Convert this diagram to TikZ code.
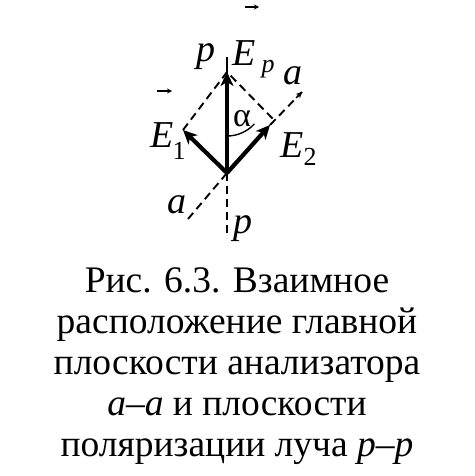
\documentclass[tikz,border=0pt]{standalone}
\usepackage{fontspec}
\setmainfont{Liberation Serif}
\usetikzlibrary{arrows.meta}
\begin{document}
\begin{tikzpicture}[x=1pt,y=-1pt,
  vec/.style={line width=4.2pt,-{Stealth[length=14pt,width=13pt,inset=4pt]}},
  dsh/.style={line width=1.9pt,dash pattern=on 8pt off 5pt},
  lbl/.style={font=\fontsize{38}{38}\selectfont\itshape,inner sep=0pt,anchor=base},
  sub/.style={font=\fontsize{26}{26}\selectfont,inner sep=0pt,anchor=base},
  tiny/.style={line width=1.3pt,-{Stealth[length=5pt,width=5pt]}},
  captext/.style={font=\fontsize{37.5}{41}\selectfont,align=center,inner sep=0pt}]
\useasboundingbox (0,0) rectangle (474,476);
\coordinate (O) at (227,173);
\coordinate (Ep) at (227,72);
\coordinate (Ptop) at (227,57);
\coordinate (Pbot) at (227,238);
\coordinate (E1) at (183,130);
\coordinate (E2) at (270,125);
\coordinate (Abot) at (188,219);
\coordinate (Atop) at (302,92);
% dashed lines
\draw[dsh] (O) -- (Pbot);
\draw[dsh] (Abot) -- (O);
\draw[dsh] (E2) -- (Atop);
\draw[line width=1.2pt,-{Stealth[length=6pt,width=6pt]}] (296,98) -- (Atop);
\draw[dsh] (E1) -- (Ep) -- (274,120);
% vertical line
\draw[line width=2pt] (O) -- (Ptop);
% vectors
\draw[vec] (O) -- (Ep);
\draw[vec] (O) -- (E1);
\draw[vec] (O) -- (E2);
% angle
\draw[line width=1.4pt] (227,136) arc[start angle=90,end angle=42,radius=37];
\node[font=\fontsize{34}{34}\selectfont,inner sep=0pt,anchor=base] (alpha) at (242,127) {α};
% labels
\node[lbl] (lp) at (206,62) {p};
\node[lbl] (lE) at (244,66) {E};
\node[lbl,font=\fontsize{26}{26}\selectfont\itshape] (lEs) at (268,73) {p};
\draw[tiny] (245,7) -- (259,7);
\node[lbl] (la) at (293,85) {a};
\node[lbl] (lE1) at (162,147) {E};
\node[sub] (lE1s) at (179,159) {1};
\draw[tiny] (157,91) -- (172,91);
\node[lbl] (lE2) at (292,157) {E};
\node[sub] (lE2s) at (310,165) {2};
\node[lbl] (la2) at (177,213) {a};
\node[lbl] (lp2) at (243,233) {p};
% caption
\node[captext] (caption) at (237,366) {Рис. 6.3. Взаимное\\расположение главной\\плоскости анализатора\\\textit{a}–\textit{a} и плоскости\\поляризации луча \textit{p}–\textit{p}};
\end{tikzpicture}
\end{document}
